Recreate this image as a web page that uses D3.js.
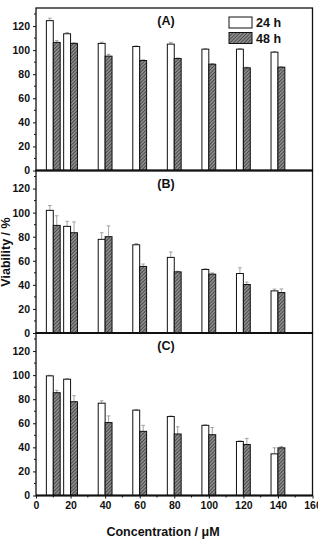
<!DOCTYPE html>
<html>
<head>
<meta charset="utf-8">
<script src="https://cdn.jsdelivr.net/npm/d3@7"></script>
<style>
  body { margin: 0; background: #fff; }
  text { font-family: "Liberation Sans", Arial, sans-serif; font-weight: bold; fill: #111; }
</style>
</head>
<body>
<script>
const W = 318, H = 541;

// concentrations (uM)
const conc = [10, 20, 40, 60, 80, 100, 120, 140];
const panelNames = ["(A)", "(B)", "(C)"];
const seriesNames = ["24 h", "48 h"];

// viability, % -- panel A
const a24 = [124.5, 113.6, 105.6, 103, 105, 100.8, 100.8, 98.3];
const a24err = [2, 1, 1, 0.5, 1.5, 0.5, 0.5, 0.5];
const a48 = [106.4, 105.6, 95, 91.4, 93, 88.3, 85.3, 85.8];
const a48err = [1.5, 0.5, 1.5, 0.5, 0.5, 0.5, 0.5, 0.5];
// panel B
const b24 = [101.9, 88.6, 77.8, 73.3, 62.8, 52.8, 49.4, 35];
const b24err = [4, 4.2, 5.5, 1, 4.5, 0.5, 4.8, 1.5];
const b48 = [89.4, 83.3, 80, 55.3, 50.8, 48.9, 40.3, 33.6];
const b48err = [8, 9, 9, 2, 0.5, 1, 2, 3];
// panel C
const c24 = [99.4, 96.6, 76.7, 70.9, 65.6, 58.3, 44.9, 34.6];
const c24err = [0.5, 0.5, 2, 0.5, 0.5, 0.5, 0.5, 5];
const c48 = [85.4, 77.9, 60.6, 53.3, 51.1, 50.5, 42.4, 39.6];
const c48err = [2, 5, 5.5, 5, 6, 6, 5, 1];

const yTicks = [0, 20, 40, 60, 80, 100, 120];
const xTicks = [0, 20, 40, 60, 80, 100, 120, 140, 160];

const panels = [
  {name: panelNames[0], s24: a24, e24: a24err, s48: a48, e48: a48err},
  {name: panelNames[1], s24: b24, e24: b24err, s48: b48, e48: b48err},
  {name: panelNames[2], s24: c24, e24: c24err, s48: c48, e48: c48err}
];

const plotL = 36, plotR = 312.5, plotT = 8, panelH = 162.5;
const barW = 4; // in concentration units

const svg = d3.select("body").append("svg").attr("width", W).attr("height", H);

// hatch pattern
const pat = svg.append("defs").append("pattern")
  .attr("id", "hatch").attr("patternUnits", "userSpaceOnUse")
  .attr("width", 2.5).attr("height", 2.5)
  .attr("patternTransform", "rotate(45)");
pat.append("rect").attr("width", 2.5).attr("height", 2.5).attr("fill", "#8a8a8a");
pat.append("line").attr("x1", 0).attr("y1", 0).attr("x2", 0).attr("y2", 2.5)
  .attr("stroke", "#333").attr("stroke-width", 1.3);

const x = d3.scaleLinear().domain([0, 160]).range([plotL, plotR]);

panels.forEach((p, pi) => {
  const y0 = plotT + pi * panelH;
  const y = d3.scaleLinear().domain([0, 135]).range([y0 + panelH, y0]);
  const g = svg.append("g");

  // minor y ticks
  g.selectAll("line.minor").data(d3.range(10, 135, 20)).join("line")
    .attr("x1", plotL - 2).attr("x2", plotL)
    .attr("y1", d => y(d)).attr("y2", d => y(d))
    .attr("stroke", "#111").attr("stroke-width", 1);

  const yAxis = d3.axisLeft(y).tickValues(yTicks).tickSize(3).tickPadding(3);
  const ya = g.append("g").attr("transform", `translate(${plotL},0)`).call(yAxis);
  ya.select(".domain").remove();
  ya.selectAll("line").attr("stroke", "#111").attr("stroke-width", 1);
  ya.selectAll("text").attr("font-size", "10.5px").attr("fill", "#111")
    .attr("font-family", "Liberation Sans, Arial, sans-serif").attr("font-weight", "bold");

  const rows = conc.map((c, i) => ({c, v24: p.s24[i], e24: p.e24[i], v48: p.s48[i], e48: p.e48[i]}));

  // error bars (behind bars)
  const errs = [];
  rows.forEach(r => {
    errs.push({xc: r.c - barW / 2, v: r.v24, e: r.e24});
    errs.push({xc: r.c + barW / 2, v: r.v48, e: r.e48});
  });
  const eg = g.append("g").attr("stroke", "#9a9a9a").attr("stroke-width", 0.9);
  eg.selectAll("line.v").data(errs).join("line")
    .attr("x1", d => x(d.xc)).attr("x2", d => x(d.xc))
    .attr("y1", d => y(d.v - d.e)).attr("y2", d => y(d.v + d.e));
  eg.selectAll("line.cap").data(errs).join("line")
    .attr("x1", d => x(d.xc) - 1.8).attr("x2", d => x(d.xc) + 1.8)
    .attr("y1", d => y(d.v + d.e)).attr("y2", d => y(d.v + d.e));

  // bars
  g.selectAll("rect.b24").data(rows).join("rect")
    .attr("x", d => x(d.c - barW)).attr("width", x(barW) - x(0))
    .attr("y", d => y(d.v24)).attr("height", d => y(0) - y(d.v24))
    .attr("fill", "#fff").attr("stroke", "#111").attr("stroke-width", 1);
  g.selectAll("rect.b48").data(rows).join("rect")
    .attr("x", d => x(d.c)).attr("width", x(barW) - x(0))
    .attr("y", d => y(d.v48)).attr("height", d => y(0) - y(d.v48))
    .attr("fill", "url(#hatch)").attr("stroke", "#111").attr("stroke-width", 1);

  // frame
  g.append("rect").attr("x", plotL).attr("y", y0).attr("width", plotR - plotL).attr("height", panelH)
    .attr("fill", "none").attr("stroke", "#111").attr("stroke-width", 1.3);
  g.append("line").attr("x1", plotL).attr("x2", plotR).attr("y1", y(0)).attr("y2", y(0))
    .attr("stroke", "#111").attr("stroke-width", 1.8);

  g.append("text").attr("x", 166).attr("y", y0 + 17)
    .attr("text-anchor", "middle").attr("font-size", "12.5px").text(p.name);

  if (pi === 2) {
    g.selectAll("line.xminor").data(d3.range(10, 160, 20)).join("line")
      .attr("x1", d => x(d)).attr("x2", d => x(d))
      .attr("y1", y(0)).attr("y2", y(0) + 2)
      .attr("stroke", "#111").attr("stroke-width", 1);
    const xa = g.append("g").attr("transform", `translate(0,${y(0)})`)
      .call(d3.axisBottom(x).tickValues(xTicks).tickSize(3).tickPadding(3));
    xa.select(".domain").remove();
    xa.selectAll("line").attr("stroke", "#111").attr("stroke-width", 1);
    xa.selectAll("text").attr("font-size", "10.5px").attr("fill", "#111")
      .attr("font-family", "Liberation Sans, Arial, sans-serif").attr("font-weight", "bold");
  }
});

// legend
const leg = svg.append("g");
seriesNames.forEach((s, i) => {
  leg.append("rect").attr("x", 229).attr("y", 17 + i * 15.5).attr("width", 23).attr("height", 11)
    .attr("fill", i === 0 ? "#fff" : "url(#hatch)").attr("stroke", "#111").attr("stroke-width", 1);
  leg.append("text").attr("x", 256).attr("y", 27 + i * 15.5).attr("font-size", "12.5px").text(s);
});

// axis titles
svg.append("text").attr("x", 163).attr("y", 536).attr("text-anchor", "middle")
  .attr("font-size", "12.5px").text("Concentration / \u03BCM");
svg.append("text").attr("transform", "translate(10,252) rotate(-90)")
  .attr("text-anchor", "middle").attr("font-size", "12.5px").text("Viability / %");
</script>
</body>
</html>
